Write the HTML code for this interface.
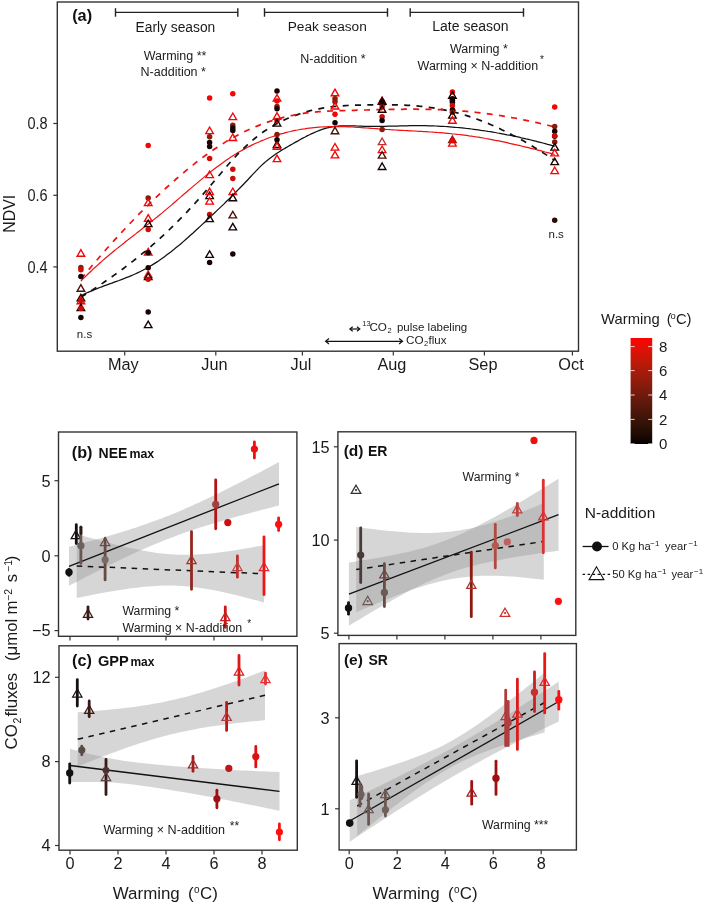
<!DOCTYPE html>
<html><head><meta charset="utf-8"><style>
html,body{margin:0;padding:0;background:#fff;}
body{width:709px;height:904px;overflow:hidden;}
svg{display:block;font-family:"Liberation Sans", sans-serif;will-change:transform;}
</style></head><body>
<svg width="709" height="904" viewBox="0 0 709 904">
<rect x="0" y="0" width="709" height="904" fill="#fff"/>
<line x1="53.3" y1="123.5" x2="57.3" y2="123.5" stroke="#333" stroke-width="1.2"/>
<text x="27.5" y="129.3" font-size="16.3" textLength="20.2" lengthAdjust="spacingAndGlyphs" fill="#1a1a1a">0.8</text>
<line x1="53.3" y1="195.3" x2="57.3" y2="195.3" stroke="#333" stroke-width="1.2"/>
<text x="27.5" y="201.10000000000002" font-size="16.3" textLength="20.2" lengthAdjust="spacingAndGlyphs" fill="#1a1a1a">0.6</text>
<line x1="53.3" y1="266.9" x2="57.3" y2="266.9" stroke="#333" stroke-width="1.2"/>
<text x="27.5" y="272.7" font-size="16.3" textLength="20.2" lengthAdjust="spacingAndGlyphs" fill="#1a1a1a">0.4</text>
<line x1="124.7" y1="351.2" x2="124.7" y2="355.4" stroke="#333" stroke-width="1.2"/>
<text x="107.9" y="370.2" font-size="16.3" fill="#1a1a1a">May</text>
<line x1="215.8" y1="351.2" x2="215.8" y2="355.4" stroke="#333" stroke-width="1.2"/>
<text x="201.28" y="370.2" font-size="16.3" fill="#1a1a1a">Jun</text>
<line x1="302.4" y1="351.2" x2="302.4" y2="355.4" stroke="#333" stroke-width="1.2"/>
<text x="290.57" y="370.2" font-size="16.3" fill="#1a1a1a">Jul</text>
<line x1="393.3" y1="351.2" x2="393.3" y2="355.4" stroke="#333" stroke-width="1.2"/>
<text x="377.39" y="370.2" font-size="16.3" fill="#1a1a1a">Aug</text>
<line x1="484.4" y1="351.2" x2="484.4" y2="355.4" stroke="#333" stroke-width="1.2"/>
<text x="468.49" y="370.2" font-size="16.3" fill="#1a1a1a">Sep</text>
<line x1="572.4" y1="351.2" x2="572.4" y2="355.4" stroke="#333" stroke-width="1.2"/>
<text x="558.33" y="370.2" font-size="16.3" fill="#1a1a1a">Oct</text>
<g transform="translate(15.2,0) rotate(-90)">
<text x="-232.7" y="0" font-size="16.6" textLength="37.99" lengthAdjust="spacingAndGlyphs" fill="#1a1a1a">NDVI</text>
</g>
<text x="72.2" y="21.3" font-size="16.3" font-weight="bold" fill="#111">(a)</text>
<line x1="115.5" y1="12.4" x2="237.8" y2="12.4" stroke="#222" stroke-width="1.4"/>
<line x1="115.5" y1="8.2" x2="115.5" y2="16.7" stroke="#222" stroke-width="1.4"/>
<line x1="237.8" y1="8.2" x2="237.8" y2="16.7" stroke="#222" stroke-width="1.4"/>
<line x1="264.5" y1="12.4" x2="387.5" y2="12.4" stroke="#222" stroke-width="1.4"/>
<line x1="264.5" y1="8.2" x2="264.5" y2="16.7" stroke="#222" stroke-width="1.4"/>
<line x1="387.5" y1="8.2" x2="387.5" y2="16.7" stroke="#222" stroke-width="1.4"/>
<line x1="410.2" y1="12.4" x2="523.5" y2="12.4" stroke="#222" stroke-width="1.4"/>
<line x1="410.2" y1="8.2" x2="410.2" y2="16.7" stroke="#222" stroke-width="1.4"/>
<line x1="523.5" y1="8.2" x2="523.5" y2="16.7" stroke="#222" stroke-width="1.4"/>
<text x="135.5" y="31.5" font-size="13.8" fill="#1a1a1a">Early season</text>
<text x="287.7" y="31.0" font-size="13.7" fill="#1a1a1a">Peak season</text>
<text x="432.3" y="30.9" font-size="14.0" fill="#1a1a1a">Late season</text>
<text x="143.7" y="59.8" font-size="12.5" fill="#1a1a1a">Warming **</text>
<text x="140.6" y="75.9" font-size="12.5" fill="#1a1a1a">N-addition *</text>
<text x="300.3" y="63.2" font-size="12.5" fill="#1a1a1a">N-addition *</text>
<text x="450.0" y="52.7" font-size="12.5" fill="#1a1a1a">Warming *</text>
<text x="417.6" y="70.4" font-size="12.5" textLength="120.52" lengthAdjust="spacingAndGlyphs" fill="#1a1a1a">Warming × N-addition</text>
<text x="540.0" y="63.4" font-size="10" fill="#1a1a1a">*</text>
<text x="76.8" y="337.6" font-size="11.5" fill="#1a1a1a">n.s</text>
<text x="548.5" y="238.1" font-size="11.5" fill="#1a1a1a">n.s</text>
<line x1="350.4" y1="329.0" x2="359.3" y2="329.0" stroke="#111" stroke-width="1.2"/>
<path d="M352.7,326.76 L349.9,329.0 L352.7,331.24" fill="none" stroke="#111" stroke-width="1.2"/>
<path d="M357.0,326.76 L359.8,329.0 L357.0,331.24" fill="none" stroke="#111" stroke-width="1.2"/>
<line x1="326.1" y1="341.3" x2="402.0" y2="341.3" stroke="#111" stroke-width="1.2"/>
<path d="M329.0,338.58 L325.6,341.3 L329.0,344.02000000000004" fill="none" stroke="#111" stroke-width="1.2"/>
<path d="M399.1,338.58 L402.5,341.3 L399.1,344.02000000000004" fill="none" stroke="#111" stroke-width="1.2"/>
<text x="362.3" y="326.3" font-size="7.5" fill="#1a1a1a">13</text>
<text x="369.4" y="331.0" font-size="11.7" fill="#1a1a1a">CO</text>
<text x="387.5" y="332.9" font-size="7.5" fill="#1a1a1a">2</text>
<text x="396.9" y="331.0" font-size="11.5" fill="#1a1a1a">pulse labeling</text>
<text x="406.0" y="344.2" font-size="11.7" fill="#1a1a1a">CO</text>
<text x="424.0" y="346.2" font-size="7.5" fill="#1a1a1a">2</text>
<text x="428.5" y="344.2" font-size="11.5" fill="#1a1a1a">flux</text>
<path d="M80.9,295.7 L83.3,294.5 L85.7,293.4 L88.0,292.3 L90.4,291.3 L92.8,290.3 L95.2,289.3 L97.6,288.4 L99.9,287.5 L102.3,286.6 L104.7,285.7 L107.1,284.8 L109.5,283.9 L111.9,283.1 L114.2,282.2 L116.6,281.3 L119.0,280.5 L121.4,279.6 L123.8,278.7 L126.1,277.7 L128.5,276.8 L130.9,275.8 L133.3,274.8 L135.7,273.7 L138.0,272.6 L140.4,271.5 L142.8,270.3 L145.2,269.0 L147.6,267.7 L149.9,266.3 L152.3,264.9 L154.7,263.4 L157.1,261.9 L159.5,260.2 L161.9,258.6 L164.2,256.9 L166.6,255.1 L169.0,253.3 L171.4,251.5 L173.8,249.6 L176.1,247.6 L178.5,245.7 L180.9,243.7 L183.3,241.6 L185.7,239.5 L188.0,237.5 L190.4,235.3 L192.8,233.2 L195.2,231.0 L197.6,228.8 L199.9,226.6 L202.3,224.4 L204.7,222.2 L207.1,219.9 L209.5,217.7 L211.8,215.4 L214.2,213.2 L216.6,210.9 L219.0,208.6 L221.4,206.4 L223.8,204.1 L226.1,201.7 L228.5,199.4 L230.9,197.1 L233.3,194.7 L235.7,192.3 L238.0,189.9 L240.4,187.5 L242.8,185.0 L245.2,182.5 L247.6,180.0 L249.9,177.5 L252.3,174.9 L254.7,172.4 L257.1,169.9 L259.5,167.4 L261.8,165.1 L264.2,163.0 L266.6,160.9 L269.0,159.0 L271.4,157.2 L273.8,155.5 L276.1,153.8 L278.5,152.3 L280.9,150.7 L283.3,149.3 L285.7,147.9 L288.0,146.5 L290.4,145.1 L292.8,143.8 L295.2,142.4 L297.6,141.1 L299.9,139.7 L302.3,138.4 L304.7,137.2 L307.1,135.9 L309.5,134.8 L311.8,133.6 L314.2,132.6 L316.6,131.5 L319.0,130.6 L321.4,129.7 L323.8,128.9 L326.1,128.2 L328.5,127.6 L330.9,127.1 L333.3,126.7 L335.7,126.3 L338.0,126.1 L340.4,125.9 L342.8,125.8 L345.2,125.8 L347.6,125.8 L349.9,125.8 L352.3,125.9 L354.7,125.9 L357.1,126.0 L359.5,126.1 L361.8,126.2 L364.2,126.3 L366.6,126.3 L369.0,126.4 L371.4,126.4 L373.8,126.4 L376.1,126.4 L378.5,126.4 L380.9,126.3 L383.3,126.3 L385.7,126.3 L388.0,126.2 L390.4,126.2 L392.8,126.1 L395.2,126.0 L397.6,126.0 L399.9,125.9 L402.3,125.9 L404.7,125.8 L407.1,125.8 L409.5,125.7 L411.8,125.7 L414.2,125.7 L416.6,125.7 L419.0,125.7 L421.4,125.7 L423.8,125.7 L426.1,125.7 L428.5,125.8 L430.9,125.9 L433.3,125.9 L435.7,126.0 L438.0,126.1 L440.4,126.3 L442.8,126.4 L445.2,126.5 L447.6,126.7 L449.9,126.9 L452.3,127.1 L454.7,127.3 L457.1,127.5 L459.5,127.7 L461.8,127.9 L464.2,128.2 L466.6,128.5 L469.0,128.7 L471.4,129.0 L473.7,129.3 L476.1,129.6 L478.5,129.9 L480.9,130.3 L483.3,130.6 L485.7,131.0 L488.0,131.4 L490.4,131.7 L492.8,132.1 L495.2,132.5 L497.6,133.0 L499.9,133.4 L502.3,133.8 L504.7,134.3 L507.1,134.8 L509.5,135.2 L511.8,135.7 L514.2,136.2 L516.6,136.7 L519.0,137.2 L521.4,137.8 L523.7,138.3 L526.1,138.9 L528.5,139.4 L530.9,140.0 L533.3,140.6 L535.7,141.2 L538.0,141.8 L540.4,142.4 L542.8,143.0 L545.2,143.6 L547.6,144.3 L549.9,144.9 L552.3,145.6 L554.7,146.3" fill="none" stroke="#111" stroke-width="1.25"/>
<path d="M80.9,281.1 L83.3,278.6 L85.7,276.3 L88.0,274.0 L90.4,271.7 L92.8,269.4 L95.2,267.2 L97.6,265.1 L99.9,263.0 L102.3,260.9 L104.7,258.8 L107.1,256.8 L109.5,254.8 L111.9,252.8 L114.2,250.8 L116.6,248.9 L119.0,247.0 L121.4,245.1 L123.8,243.2 L126.1,241.3 L128.5,239.4 L130.9,237.6 L133.3,235.7 L135.7,233.9 L138.0,232.0 L140.4,230.2 L142.8,228.3 L145.2,226.4 L147.6,224.6 L149.9,222.7 L152.3,220.8 L154.7,218.9 L157.1,217.0 L159.5,215.0 L161.9,213.1 L164.2,211.1 L166.6,209.1 L169.0,207.1 L171.4,205.1 L173.8,203.0 L176.1,201.0 L178.5,198.9 L180.9,196.9 L183.3,194.8 L185.7,192.7 L188.0,190.7 L190.4,188.6 L192.8,186.6 L195.2,184.6 L197.6,182.6 L199.9,180.6 L202.3,178.6 L204.7,176.6 L207.1,174.7 L209.5,172.8 L211.8,170.9 L214.2,169.0 L216.6,167.2 L219.0,165.4 L221.4,163.7 L223.8,162.0 L226.1,160.3 L228.5,158.7 L230.9,157.1 L233.3,155.6 L235.7,154.1 L238.0,152.6 L240.4,151.2 L242.8,149.9 L245.2,148.6 L247.6,147.3 L249.9,146.1 L252.3,144.9 L254.7,143.8 L257.1,142.7 L259.5,141.7 L261.8,140.6 L264.2,139.7 L266.6,138.7 L269.0,137.8 L271.4,137.0 L273.8,136.2 L276.1,135.4 L278.5,134.6 L280.9,133.9 L283.3,133.3 L285.7,132.6 L288.0,132.0 L290.4,131.5 L292.8,130.9 L295.2,130.4 L297.6,130.0 L299.9,129.5 L302.3,129.1 L304.7,128.8 L307.1,128.4 L309.5,128.1 L311.8,127.8 L314.2,127.6 L316.6,127.4 L319.0,127.2 L321.4,127.0 L323.8,126.9 L326.1,126.8 L328.5,126.7 L330.9,126.6 L333.3,126.6 L335.7,126.6 L338.0,126.6 L340.4,126.6 L342.8,126.7 L345.2,126.7 L347.6,126.8 L349.9,126.9 L352.3,127.0 L354.7,127.2 L357.1,127.3 L359.5,127.5 L361.8,127.6 L364.2,127.8 L366.6,128.0 L369.0,128.1 L371.4,128.3 L373.8,128.5 L376.1,128.7 L378.5,128.9 L380.9,129.0 L383.3,129.2 L385.7,129.4 L388.0,129.5 L390.4,129.7 L392.8,129.8 L395.2,130.0 L397.6,130.1 L399.9,130.3 L402.3,130.4 L404.7,130.5 L407.1,130.6 L409.5,130.8 L411.8,130.9 L414.2,131.0 L416.6,131.2 L419.0,131.3 L421.4,131.4 L423.8,131.6 L426.1,131.7 L428.5,131.9 L430.9,132.0 L433.3,132.2 L435.7,132.3 L438.0,132.5 L440.4,132.7 L442.8,132.9 L445.2,133.1 L447.6,133.3 L449.9,133.5 L452.3,133.8 L454.7,134.0 L457.1,134.3 L459.5,134.5 L461.8,134.8 L464.2,135.1 L466.6,135.4 L469.0,135.8 L471.4,136.1 L473.7,136.5 L476.1,136.9 L478.5,137.2 L480.9,137.6 L483.3,138.0 L485.7,138.5 L488.0,138.9 L490.4,139.3 L492.8,139.8 L495.2,140.3 L497.6,140.7 L499.9,141.2 L502.3,141.7 L504.7,142.2 L507.1,142.7 L509.5,143.3 L511.8,143.8 L514.2,144.3 L516.6,144.9 L519.0,145.4 L521.4,146.0 L523.7,146.6 L526.1,147.1 L528.5,147.7 L530.9,148.3 L533.3,148.9 L535.7,149.5 L538.0,150.1 L540.4,150.7 L542.8,151.3 L545.2,152.0 L547.6,152.6 L549.9,153.2 L552.3,153.9 L554.7,154.5" fill="none" stroke="#f01010" stroke-width="1.2"/>
<path d="M80.9,297.3 L83.3,295.8 L85.7,294.3 L88.0,292.8 L90.4,291.2 L92.8,289.7 L95.2,288.1 L97.6,286.5 L99.9,285.0 L102.3,283.4 L104.7,281.7 L107.1,280.1 L109.5,278.4 L111.9,276.8 L114.2,275.1 L116.6,273.4 L119.0,271.7 L121.4,269.9 L123.8,268.2 L126.1,266.4 L128.5,264.6 L130.9,262.7 L133.3,260.9 L135.7,259.0 L138.0,257.1 L140.4,255.2 L142.8,253.2 L145.2,251.3 L147.6,249.3 L149.9,247.3 L152.3,245.2 L154.7,243.1 L157.1,241.0 L159.5,238.9 L161.9,236.7 L164.2,234.5 L166.6,232.3 L169.0,230.0 L171.4,227.7 L173.8,225.4 L176.1,223.0 L178.5,220.6 L180.9,218.2 L183.3,215.8 L185.7,213.3 L188.0,210.8 L190.4,208.2 L192.8,205.7 L195.2,203.0 L197.6,200.4 L199.9,197.8 L202.3,195.1 L204.7,192.3 L207.1,189.6 L209.5,186.8 L211.8,184.0 L214.2,181.2 L216.6,178.4 L219.0,175.5 L221.4,172.7 L223.8,169.9 L226.1,167.1 L228.5,164.3 L230.9,161.6 L233.3,158.9 L235.7,156.4 L238.0,153.9 L240.4,151.4 L242.8,149.1 L245.2,146.8 L247.6,144.6 L249.9,142.5 L252.3,140.4 L254.7,138.5 L257.1,136.6 L259.5,134.8 L261.8,133.0 L264.2,131.3 L266.6,129.8 L269.0,128.2 L271.4,126.8 L273.8,125.4 L276.1,124.1 L278.5,122.8 L280.9,121.6 L283.3,120.4 L285.7,119.3 L288.0,118.3 L290.4,117.3 L292.8,116.3 L295.2,115.4 L297.6,114.6 L299.9,113.8 L302.3,113.0 L304.7,112.3 L307.1,111.6 L309.5,110.9 L311.8,110.3 L314.2,109.8 L316.6,109.3 L319.0,108.8 L321.4,108.3 L323.8,107.9 L326.1,107.5 L328.5,107.2 L330.9,106.9 L333.3,106.6 L335.7,106.4 L338.0,106.2 L340.4,106.0 L342.8,105.8 L345.2,105.6 L347.6,105.5 L349.9,105.4 L352.3,105.3 L354.7,105.2 L357.1,105.2 L359.5,105.1 L361.8,105.0 L364.2,105.0 L366.6,105.0 L369.0,104.9 L371.4,104.9 L373.8,104.9 L376.1,104.8 L378.5,104.8 L380.9,104.8 L383.3,104.8 L385.7,104.8 L388.0,104.8 L390.4,104.8 L392.8,104.8 L395.2,104.8 L397.6,104.9 L399.9,105.0 L402.3,105.0 L404.7,105.1 L407.1,105.3 L409.5,105.4 L411.8,105.6 L414.2,105.7 L416.6,105.9 L419.0,106.2 L421.4,106.4 L423.8,106.7 L426.1,106.9 L428.5,107.3 L430.9,107.6 L433.3,107.9 L435.7,108.3 L438.0,108.7 L440.4,109.1 L442.8,109.6 L445.2,110.1 L447.6,110.6 L449.9,111.1 L452.3,111.7 L454.7,112.3 L457.1,112.9 L459.5,113.5 L461.8,114.2 L464.2,114.9 L466.6,115.6 L469.0,116.4 L471.4,117.2 L473.7,118.0 L476.1,118.8 L478.5,119.7 L480.9,120.6 L483.3,121.5 L485.7,122.5 L488.0,123.4 L490.4,124.5 L492.8,125.5 L495.2,126.5 L497.6,127.6 L499.9,128.7 L502.3,129.9 L504.7,131.0 L507.1,132.2 L509.5,133.4 L511.8,134.7 L514.2,135.9 L516.6,137.2 L519.0,138.5 L521.4,139.8 L523.7,141.1 L526.1,142.5 L528.5,143.9 L530.9,145.3 L533.3,146.7 L535.7,148.2 L538.0,149.6 L540.4,151.1 L542.8,152.6 L545.2,154.1 L547.6,155.7 L549.9,157.2 L552.3,158.8 L554.7,160.4" fill="none" stroke="#111" stroke-width="1.7" stroke-dasharray="6,6.3"/>
<path d="M80.9,279.1 L83.3,276.2 L85.7,273.3 L88.0,270.5 L90.4,267.7 L92.8,264.8 L95.2,262.0 L97.6,259.3 L99.9,256.5 L102.3,253.8 L104.7,251.0 L107.1,248.3 L109.5,245.7 L111.9,243.0 L114.2,240.4 L116.6,237.8 L119.0,235.2 L121.4,232.6 L123.8,230.0 L126.1,227.5 L128.5,225.0 L130.9,222.5 L133.3,220.0 L135.7,217.5 L138.0,215.1 L140.4,212.7 L142.8,210.3 L145.2,207.9 L147.6,205.6 L149.9,203.2 L152.3,200.9 L154.7,198.6 L157.1,196.4 L159.5,194.1 L161.9,191.9 L164.2,189.7 L166.6,187.5 L169.0,185.3 L171.4,183.2 L173.8,181.1 L176.1,179.0 L178.5,176.9 L180.9,174.9 L183.3,172.9 L185.7,170.9 L188.0,168.9 L190.4,167.0 L192.8,165.1 L195.2,163.2 L197.6,161.3 L199.9,159.5 L202.3,157.7 L204.7,156.0 L207.1,154.2 L209.5,152.6 L211.8,150.9 L214.2,149.3 L216.6,147.7 L219.0,146.1 L221.4,144.6 L223.8,143.1 L226.1,141.6 L228.5,140.2 L230.9,138.9 L233.3,137.5 L235.7,136.2 L238.0,134.9 L240.4,133.7 L242.8,132.5 L245.2,131.3 L247.6,130.2 L249.9,129.1 L252.3,128.1 L254.7,127.1 L257.1,126.1 L259.5,125.1 L261.8,124.2 L264.2,123.3 L266.6,122.5 L269.0,121.6 L271.4,120.9 L273.8,120.1 L276.1,119.4 L278.5,118.7 L280.9,118.1 L283.3,117.4 L285.7,116.8 L288.0,116.3 L290.4,115.7 L292.8,115.3 L295.2,114.8 L297.6,114.3 L299.9,113.9 L302.3,113.6 L304.7,113.2 L307.1,112.9 L309.5,112.6 L311.8,112.3 L314.2,112.1 L316.6,111.9 L319.0,111.7 L321.4,111.5 L323.8,111.4 L326.1,111.2 L328.5,111.1 L330.9,111.0 L333.3,110.9 L335.7,110.8 L338.0,110.7 L340.4,110.6 L342.8,110.6 L345.2,110.5 L347.6,110.4 L349.9,110.4 L352.3,110.3 L354.7,110.3 L357.1,110.2 L359.5,110.1 L361.8,110.1 L364.2,110.0 L366.6,110.0 L369.0,109.9 L371.4,109.8 L373.8,109.8 L376.1,109.7 L378.5,109.7 L380.9,109.6 L383.3,109.6 L385.7,109.5 L388.0,109.5 L390.4,109.4 L392.8,109.4 L395.2,109.3 L397.6,109.3 L399.9,109.3 L402.3,109.3 L404.7,109.2 L407.1,109.2 L409.5,109.2 L411.8,109.2 L414.2,109.2 L416.6,109.2 L419.0,109.3 L421.4,109.3 L423.8,109.3 L426.1,109.3 L428.5,109.4 L430.9,109.4 L433.3,109.5 L435.7,109.6 L438.0,109.7 L440.4,109.7 L442.8,109.8 L445.2,110.0 L447.6,110.1 L449.9,110.2 L452.3,110.3 L454.7,110.5 L457.1,110.6 L459.5,110.8 L461.8,111.0 L464.2,111.2 L466.6,111.4 L469.0,111.6 L471.4,111.9 L473.7,112.1 L476.1,112.4 L478.5,112.6 L480.9,112.9 L483.3,113.2 L485.7,113.5 L488.0,113.8 L490.4,114.1 L492.8,114.5 L495.2,114.8 L497.6,115.2 L499.9,115.5 L502.3,115.9 L504.7,116.3 L507.1,116.7 L509.5,117.1 L511.8,117.6 L514.2,118.0 L516.6,118.4 L519.0,118.9 L521.4,119.4 L523.7,119.9 L526.1,120.3 L528.5,120.8 L530.9,121.4 L533.3,121.9 L535.7,122.4 L538.0,122.9 L540.4,123.5 L542.8,124.1 L545.2,124.6 L547.6,125.2 L549.9,125.8 L552.3,126.4 L554.7,127.0" fill="none" stroke="#f01010" stroke-width="1.7" stroke-dasharray="6,6.3"/>
<polygon points="80.90,249.71 77.10,256.29 84.70,256.29" fill="none" stroke="#f50505" stroke-width="1.35" stroke-linejoin="miter"/>
<circle cx="80.9" cy="267.5" r="2.75" fill="#8c1a0c"/>
<circle cx="80.9" cy="269.8" r="2.75" fill="#cc0c06"/>
<circle cx="80.9" cy="276.4" r="2.75" fill="#160303"/>
<polygon points="80.90,284.71 77.10,291.29 84.70,291.29" fill="none" stroke="#4a1208" stroke-width="1.35" stroke-linejoin="miter"/>
<polygon points="80.90,294.31 77.10,300.89 84.70,300.89" fill="none" stroke="#160303" stroke-width="1.35" stroke-linejoin="miter"/>
<polygon points="80.90,297.21 77.10,303.79 84.70,303.79" fill="none" stroke="#f50505" stroke-width="1.35" stroke-linejoin="miter"/>
<circle cx="80.9" cy="300.5" r="2.75" fill="#cc0c06"/>
<polygon points="80.90,304.11 77.10,310.69 84.70,310.69" fill="none" stroke="#160303" stroke-width="1.35" stroke-linejoin="miter"/>
<circle cx="80.9" cy="308.5" r="2.75" fill="#cc0c06"/>
<circle cx="80.9" cy="317.5" r="2.75" fill="#160303"/>
<circle cx="148.2" cy="145.5" r="2.75" fill="#f50505"/>
<circle cx="148.2" cy="198.1" r="2.75" fill="#8c1a0c"/>
<polygon points="148.20,199.11 144.40,205.69 152.00,205.69" fill="none" stroke="#f50505" stroke-width="1.35" stroke-linejoin="miter"/>
<polygon points="148.20,214.71 144.40,221.29 152.00,221.29" fill="none" stroke="#f50505" stroke-width="1.35" stroke-linejoin="miter"/>
<polygon points="148.20,220.11 144.40,226.69 152.00,226.69" fill="none" stroke="#160303" stroke-width="1.35" stroke-linejoin="miter"/>
<circle cx="148.2" cy="229.5" r="2.75" fill="#cc0c06"/>
<polygon points="148.20,248.41 144.40,254.99 152.00,254.99" fill="none" stroke="#f50505" stroke-width="1.35" stroke-linejoin="miter"/>
<circle cx="148.2" cy="252.7" r="2.75" fill="#160303"/>
<circle cx="148.2" cy="267.7" r="2.75" fill="#160303"/>
<polygon points="148.20,271.01 144.40,277.59 152.00,277.59" fill="none" stroke="#f50505" stroke-width="1.35" stroke-linejoin="miter"/>
<polygon points="148.20,273.11 144.40,279.69 152.00,279.69" fill="none" stroke="#160303" stroke-width="1.35" stroke-linejoin="miter"/>
<circle cx="148.2" cy="279.2" r="2.75" fill="#cc0c06"/>
<circle cx="148.2" cy="312.0" r="2.75" fill="#160303"/>
<polygon points="148.20,321.11 144.40,327.69 152.00,327.69" fill="none" stroke="#160303" stroke-width="1.35" stroke-linejoin="miter"/>
<circle cx="209.6" cy="97.9" r="2.75" fill="#f50505"/>
<polygon points="209.60,127.01 205.80,133.59 213.40,133.59" fill="none" stroke="#f50505" stroke-width="1.35" stroke-linejoin="miter"/>
<circle cx="209.6" cy="136.7" r="2.75" fill="#8c1a0c"/>
<circle cx="209.6" cy="142.6" r="2.75" fill="#160303"/>
<circle cx="209.6" cy="146.4" r="2.75" fill="#160303"/>
<circle cx="209.6" cy="158.5" r="2.75" fill="#cc0c06"/>
<polygon points="209.60,171.01 205.80,177.59 213.40,177.59" fill="none" stroke="#f50505" stroke-width="1.35" stroke-linejoin="miter"/>
<polygon points="209.60,192.01 205.80,198.59 213.40,198.59" fill="none" stroke="#160303" stroke-width="1.35" stroke-linejoin="miter"/>
<polygon points="209.60,188.11 205.80,194.69 213.40,194.69" fill="none" stroke="#f50505" stroke-width="1.35" stroke-linejoin="miter"/>
<polygon points="209.60,197.51 205.80,204.09 213.40,204.09" fill="none" stroke="#f50505" stroke-width="1.35" stroke-linejoin="miter"/>
<circle cx="209.6" cy="214.6" r="2.75" fill="#cc0c06"/>
<polygon points="209.60,215.11 205.80,221.69 213.40,221.69" fill="none" stroke="#160303" stroke-width="1.35" stroke-linejoin="miter"/>
<polygon points="209.60,250.81 205.80,257.39 213.40,257.39" fill="none" stroke="#160303" stroke-width="1.35" stroke-linejoin="miter"/>
<circle cx="209.6" cy="262.5" r="2.75" fill="#160303"/>
<circle cx="232.8" cy="93.7" r="2.75" fill="#f50505"/>
<polygon points="232.80,113.01 229.00,119.59 236.60,119.59" fill="none" stroke="#f50505" stroke-width="1.35" stroke-linejoin="miter"/>
<circle cx="232.8" cy="125.2" r="2.75" fill="#8c1a0c"/>
<circle cx="232.8" cy="128.0" r="2.75" fill="#160303"/>
<circle cx="232.8" cy="130.5" r="2.75" fill="#160303"/>
<polygon points="232.80,133.91 229.00,140.49 236.60,140.49" fill="none" stroke="#f50505" stroke-width="1.35" stroke-linejoin="miter"/>
<circle cx="232.8" cy="169.3" r="2.75" fill="#cc0c06"/>
<circle cx="232.8" cy="178.6" r="2.75" fill="#cc0c06"/>
<polygon points="232.80,188.01 229.00,194.59 236.60,194.59" fill="none" stroke="#f50505" stroke-width="1.35" stroke-linejoin="miter"/>
<polygon points="232.80,194.21 229.00,200.79 236.60,200.79" fill="none" stroke="#160303" stroke-width="1.35" stroke-linejoin="miter"/>
<polygon points="232.80,211.31 229.00,217.89 236.60,217.89" fill="none" stroke="#4a1208" stroke-width="1.35" stroke-linejoin="miter"/>
<polygon points="232.80,223.31 229.00,229.89 236.60,229.89" fill="none" stroke="#160303" stroke-width="1.35" stroke-linejoin="miter"/>
<circle cx="232.8" cy="254.1" r="2.75" fill="#160303"/>
<circle cx="277.0" cy="90.9" r="2.75" fill="#160303"/>
<polygon points="277.00,94.61 273.20,101.19 280.80,101.19" fill="none" stroke="#f50505" stroke-width="1.35" stroke-linejoin="miter"/>
<circle cx="277.0" cy="101.0" r="2.75" fill="#f50505"/>
<circle cx="277.0" cy="106.5" r="2.75" fill="#8c1a0c"/>
<circle cx="277.0" cy="108.8" r="2.75" fill="#160303"/>
<polygon points="277.00,112.71 273.20,119.29 280.80,119.29" fill="none" stroke="#f50505" stroke-width="1.35" stroke-linejoin="miter"/>
<circle cx="277.0" cy="120.4" r="2.75" fill="#cc0c06"/>
<polygon points="277.00,119.51 273.20,126.09 280.80,126.09" fill="none" stroke="#160303" stroke-width="1.35" stroke-linejoin="miter"/>
<circle cx="277.0" cy="134.4" r="2.75" fill="#8c1a0c"/>
<circle cx="277.0" cy="139.8" r="2.75" fill="#160303"/>
<polygon points="277.00,140.91 273.20,147.49 280.80,147.49" fill="none" stroke="#160303" stroke-width="1.35" stroke-linejoin="miter"/>
<polygon points="277.00,142.71 273.20,149.29 280.80,149.29" fill="none" stroke="#f50505" stroke-width="1.35" stroke-linejoin="miter"/>
<polygon points="277.00,155.11 273.20,161.69 280.80,161.69" fill="none" stroke="#f50505" stroke-width="1.35" stroke-linejoin="miter"/>
<polygon points="335.00,89.21 331.20,95.79 338.80,95.79" fill="none" stroke="#f50505" stroke-width="1.35" stroke-linejoin="miter"/>
<circle cx="335.0" cy="98.7" r="2.75" fill="#8c1a0c"/>
<circle cx="335.0" cy="101.8" r="2.75" fill="#8c1a0c"/>
<polygon points="335.00,102.41 331.20,108.99 338.80,108.99" fill="none" stroke="#f50505" stroke-width="1.35" stroke-linejoin="miter"/>
<circle cx="335.0" cy="114.2" r="2.75" fill="#f50505"/>
<circle cx="335.0" cy="122.8" r="2.75" fill="#160303"/>
<polygon points="335.00,127.21 331.20,133.79 338.80,133.79" fill="none" stroke="#4a1208" stroke-width="1.35" stroke-linejoin="miter"/>
<polygon points="335.00,143.51 331.20,150.09 338.80,150.09" fill="none" stroke="#f50505" stroke-width="1.35" stroke-linejoin="miter"/>
<polygon points="335.00,151.31 331.20,157.89 338.80,157.89" fill="none" stroke="#f50505" stroke-width="1.35" stroke-linejoin="miter"/>
<polygon points="382.10,97.21 378.30,103.79 385.90,103.79" fill="none" stroke="#f50505" stroke-width="1.35" stroke-linejoin="miter"/>
<polygon points="382.10,97.71 378.30,104.29 385.90,104.29" fill="none" stroke="#160303" stroke-width="1.35" stroke-linejoin="miter"/>
<circle cx="382.1" cy="101.5" r="2.75" fill="#160303"/>
<circle cx="382.1" cy="107.0" r="2.75" fill="#cc0c06"/>
<polygon points="382.10,105.71 378.30,112.29 385.90,112.29" fill="none" stroke="#160303" stroke-width="1.35" stroke-linejoin="miter"/>
<circle cx="382.1" cy="116.8" r="2.75" fill="#cc0c06"/>
<circle cx="382.1" cy="120.6" r="2.75" fill="#160303"/>
<circle cx="382.1" cy="129.5" r="2.75" fill="#8c1a0c"/>
<polygon points="382.10,138.01 378.30,144.59 385.90,144.59" fill="none" stroke="#c03030" stroke-width="1.35" stroke-linejoin="miter"/>
<polygon points="382.10,146.01 378.30,152.59 385.90,152.59" fill="none" stroke="#f50505" stroke-width="1.35" stroke-linejoin="miter"/>
<polygon points="382.10,151.61 378.30,158.19 385.90,158.19" fill="none" stroke="#4a1208" stroke-width="1.35" stroke-linejoin="miter"/>
<polygon points="382.10,162.91 378.30,169.49 385.90,169.49" fill="none" stroke="#160303" stroke-width="1.35" stroke-linejoin="miter"/>
<circle cx="452.4" cy="92.0" r="2.75" fill="#f50505"/>
<polygon points="452.40,91.71 448.60,98.29 456.20,98.29" fill="none" stroke="#160303" stroke-width="1.35" stroke-linejoin="miter"/>
<circle cx="452.4" cy="98.8" r="2.75" fill="#160303"/>
<circle cx="452.4" cy="100.5" r="2.75" fill="#160303"/>
<circle cx="452.4" cy="102.2" r="2.75" fill="#160303"/>
<circle cx="452.4" cy="105.5" r="2.75" fill="#cc0c06"/>
<circle cx="452.4" cy="109.8" r="2.75" fill="#160303"/>
<circle cx="452.4" cy="112.3" r="2.75" fill="#8c1a0c"/>
<polygon points="452.40,111.61 448.60,118.19 456.20,118.19" fill="none" stroke="#160303" stroke-width="1.35" stroke-linejoin="miter"/>
<polygon points="452.40,116.71 448.60,123.29 456.20,123.29" fill="none" stroke="#f50505" stroke-width="1.35" stroke-linejoin="miter"/>
<polygon points="452.40,136.11 448.60,142.69 456.20,142.69" fill="none" stroke="#8c1a0c" stroke-width="1.35" stroke-linejoin="miter"/>
<circle cx="452.4" cy="140.5" r="2.75" fill="#cc0c06"/>
<polygon points="452.40,139.51 448.60,146.09 456.20,146.09" fill="none" stroke="#f50505" stroke-width="1.35" stroke-linejoin="miter"/>
<circle cx="554.7" cy="106.9" r="2.75" fill="#f50505"/>
<circle cx="554.7" cy="126.4" r="2.75" fill="#8c1a0c"/>
<circle cx="554.7" cy="131.3" r="2.75" fill="#160303"/>
<circle cx="554.7" cy="136.3" r="2.75" fill="#160303"/>
<circle cx="554.7" cy="135.8" r="2.75" fill="#cc0c06"/>
<circle cx="554.7" cy="142.0" r="2.75" fill="#8c1a0c"/>
<polygon points="554.70,143.61 550.90,150.19 558.50,150.19" fill="none" stroke="#160303" stroke-width="1.35" stroke-linejoin="miter"/>
<polygon points="554.70,149.31 550.90,155.89 558.50,155.89" fill="none" stroke="#f50505" stroke-width="1.35" stroke-linejoin="miter"/>
<polygon points="554.70,158.11 550.90,164.69 558.50,164.69" fill="none" stroke="#160303" stroke-width="1.35" stroke-linejoin="miter"/>
<polygon points="554.70,167.01 550.90,173.59 558.50,173.59" fill="none" stroke="#f50505" stroke-width="1.35" stroke-linejoin="miter"/>
<circle cx="554.7" cy="220.2" r="2.75" fill="#2a0806"/>
<rect x="57.3" y="2.0" width="521.2" height="349.2" fill="none" stroke="#333" stroke-width="1.4"/>
<defs><linearGradient id="cb" x1="0" y1="1" x2="0" y2="0"><stop offset="0.00" stop-color="#000000"/><stop offset="0.05" stop-color="#150602"/><stop offset="0.10" stop-color="#200c03"/><stop offset="0.15" stop-color="#2a1005"/><stop offset="0.20" stop-color="#341307"/><stop offset="0.25" stop-color="#3f1508"/><stop offset="0.30" stop-color="#4a160a"/><stop offset="0.35" stop-color="#56180b"/><stop offset="0.40" stop-color="#61190b"/><stop offset="0.45" stop-color="#6d1a0c"/><stop offset="0.50" stop-color="#7a1b0c"/><stop offset="0.55" stop-color="#861b0c"/><stop offset="0.60" stop-color="#931b0c"/><stop offset="0.65" stop-color="#9f1b0b"/><stop offset="0.70" stop-color="#ac1a0a"/><stop offset="0.75" stop-color="#b91909"/><stop offset="0.80" stop-color="#c71708"/><stop offset="0.85" stop-color="#d41406"/><stop offset="0.90" stop-color="#e21005"/><stop offset="0.95" stop-color="#ef0a03"/><stop offset="1.00" stop-color="#fd0100"/></linearGradient></defs>
<rect x="630.6" y="338" width="21.6" height="106" fill="url(#cb)"/>
<line x1="630.6" y1="346.6" x2="634.6" y2="346.6" stroke="#fff" stroke-width="1.0" stroke-opacity="0.8"/>
<line x1="648.2" y1="346.6" x2="652.2" y2="346.6" stroke="#fff" stroke-width="1.0" stroke-opacity="0.8"/>
<text x="659.0" y="351.90000000000003" font-size="15" fill="#1a1a1a">8</text>
<line x1="630.6" y1="370.6" x2="634.6" y2="370.6" stroke="#fff" stroke-width="1.0" stroke-opacity="0.8"/>
<line x1="648.2" y1="370.6" x2="652.2" y2="370.6" stroke="#fff" stroke-width="1.0" stroke-opacity="0.8"/>
<text x="659.0" y="375.90000000000003" font-size="15" fill="#1a1a1a">6</text>
<line x1="630.6" y1="395.0" x2="634.6" y2="395.0" stroke="#fff" stroke-width="1.0" stroke-opacity="0.8"/>
<line x1="648.2" y1="395.0" x2="652.2" y2="395.0" stroke="#fff" stroke-width="1.0" stroke-opacity="0.8"/>
<text x="659.0" y="400.3" font-size="15" fill="#1a1a1a">4</text>
<line x1="630.6" y1="419.4" x2="634.6" y2="419.4" stroke="#fff" stroke-width="1.0" stroke-opacity="0.8"/>
<line x1="648.2" y1="419.4" x2="652.2" y2="419.4" stroke="#fff" stroke-width="1.0" stroke-opacity="0.8"/>
<text x="659.0" y="424.7" font-size="15" fill="#1a1a1a">2</text>
<line x1="630.6" y1="443.8" x2="634.6" y2="443.8" stroke="#fff" stroke-width="1.0" stroke-opacity="0.8"/>
<line x1="648.2" y1="443.8" x2="652.2" y2="443.8" stroke="#fff" stroke-width="1.0" stroke-opacity="0.8"/>
<text x="659.0" y="449.1" font-size="15" fill="#1a1a1a">0</text>
<text x="601.1" y="324.0" font-size="14.8" fill="#1a1a1a">Warming</text>
<text x="666.7" y="324.0" font-size="14.8" fill="#1a1a1a">(</text>
<text x="670.6" y="319.1" font-size="9.4" fill="#1a1a1a">o</text>
<text x="675.9" y="324.0" font-size="14.8" fill="#1a1a1a">C)</text>
<text x="584.7" y="518.2" font-size="15.5" fill="#1a1a1a">N-addition</text>
<line x1="582.6" y1="546.5" x2="608.5" y2="546.5" stroke="#111" stroke-width="1.3"/>
<circle cx="597.0" cy="546.5" r="5.0" fill="#111"/>
<text x="612.2" y="550.1" font-size="11.2" fill="#1a1a1a">0 Kg ha</text>
<text x="650.3" y="545.6" font-size="8" fill="#1a1a1a">−1</text>
<text x="665.1" y="550.1" font-size="11.2" fill="#1a1a1a">year</text>
<text x="688.6" y="545.6" font-size="8" fill="#1a1a1a">−1</text>
<line x1="582.6" y1="574.4" x2="610.3" y2="574.4" stroke="#111" stroke-width="1.1" stroke-dasharray="2.5,2.5"/>
<polygon points="596.50,566.79 589.10,579.61 603.90,579.61" fill="none" stroke="#111" stroke-width="1.1" stroke-linejoin="miter"/>
<text x="612.2" y="578.1" font-size="11.2" fill="#1a1a1a">50 Kg ha</text>
<text x="657.4" y="573.6" font-size="8" fill="#1a1a1a">−1</text>
<text x="671.5" y="578.1" font-size="11.2" fill="#1a1a1a">year</text>
<text x="694.0" y="573.6" font-size="8" fill="#1a1a1a">−1</text>
<path d="M69.00,546.80 L73.20,545.70 L77.40,544.59 L81.60,543.46 L85.80,542.33 L90.00,541.19 L94.20,540.03 L98.40,538.86 L102.60,537.67 L106.80,536.47 L111.00,535.25 L115.20,534.01 L119.40,532.74 L123.60,531.46 L127.80,530.14 L132.00,528.80 L136.20,527.43 L140.40,526.03 L144.60,524.59 L148.80,523.12 L153.00,521.61 L157.20,520.07 L161.40,518.48 L165.60,516.85 L169.80,515.18 L174.00,513.47 L178.20,511.72 L182.40,509.94 L186.60,508.11 L190.80,506.25 L195.00,504.36 L199.20,502.43 L203.40,500.48 L207.60,498.49 L211.80,496.48 L216.00,494.45 L220.20,492.39 L224.40,490.32 L228.60,488.22 L232.80,486.11 L237.00,483.98 L241.20,481.84 L245.40,479.69 L249.60,477.52 L253.80,475.35 L258.00,473.16 L262.20,470.96 L266.40,468.76 L270.60,466.55 L274.80,464.33 L279.00,462.10 L279.00,505.50 L274.80,506.57 L270.60,507.65 L266.40,508.74 L262.20,509.84 L258.00,510.94 L253.80,512.05 L249.60,513.18 L245.40,514.31 L241.20,515.46 L237.00,516.62 L232.80,517.79 L228.60,518.98 L224.40,520.18 L220.20,521.41 L216.00,522.65 L211.80,523.92 L207.60,525.21 L203.40,526.52 L199.20,527.87 L195.00,529.24 L190.80,530.65 L186.60,532.09 L182.40,533.56 L178.20,535.08 L174.00,536.63 L169.80,538.22 L165.60,539.85 L161.40,541.52 L157.20,543.23 L153.00,544.99 L148.80,546.78 L144.60,548.61 L140.40,550.47 L136.20,552.37 L132.00,554.30 L127.80,556.26 L123.60,558.24 L119.40,560.26 L115.20,562.29 L111.00,564.35 L106.80,566.43 L102.60,568.53 L98.40,570.64 L94.20,572.77 L90.00,574.91 L85.80,577.07 L81.60,579.24 L77.40,581.41 L73.20,583.60 L69.00,585.80Z" fill="#999999" fill-opacity="0.4" stroke="none"/>
<path d="M76.70,534.10 L80.45,535.16 L84.19,536.22 L87.94,537.26 L91.68,538.29 L95.43,539.31 L99.18,540.32 L102.92,541.32 L106.67,542.30 L110.41,543.26 L114.16,544.21 L117.91,545.13 L121.65,546.03 L125.40,546.91 L129.14,547.76 L132.89,548.58 L136.64,549.36 L140.38,550.11 L144.13,550.82 L147.87,551.48 L151.62,552.09 L155.37,552.65 L159.11,553.15 L162.86,553.60 L166.60,553.98 L170.35,554.29 L174.10,554.53 L177.84,554.71 L181.59,554.82 L185.33,554.85 L189.08,554.82 L192.83,554.73 L196.57,554.58 L200.32,554.36 L204.06,554.09 L207.81,553.78 L211.56,553.41 L215.30,553.00 L219.05,552.56 L222.79,552.08 L226.54,551.56 L230.29,551.02 L234.03,550.45 L237.78,549.86 L241.52,549.24 L245.27,548.61 L249.02,547.96 L252.76,547.29 L256.51,546.60 L260.25,545.91 L264.00,545.20 L264.00,602.40 L260.25,601.38 L256.51,600.37 L252.76,599.38 L249.02,598.40 L245.27,597.43 L241.52,596.49 L237.78,595.56 L234.03,594.65 L230.29,593.77 L226.54,592.92 L222.79,592.09 L219.05,591.30 L215.30,590.54 L211.56,589.82 L207.81,589.14 L204.06,588.51 L200.32,587.93 L196.57,587.41 L192.83,586.94 L189.08,586.54 L185.33,586.19 L181.59,585.92 L177.84,585.71 L174.10,585.58 L170.35,585.51 L166.60,585.51 L162.86,585.58 L159.11,585.71 L155.37,585.90 L151.62,586.15 L147.87,586.45 L144.13,586.80 L140.38,587.20 L136.64,587.63 L132.89,588.10 L129.14,588.61 L125.40,589.15 L121.65,589.71 L117.91,590.30 L114.16,590.91 L110.41,591.55 L106.67,592.20 L102.92,592.87 L99.18,593.55 L95.43,594.25 L91.68,594.96 L87.94,595.68 L84.19,596.41 L80.45,597.15 L76.70,597.90Z" fill="#999999" fill-opacity="0.4" stroke="none"/>
<path d="M69,566.3 L279,483.8" fill="none" stroke="#111" stroke-width="1.3"/>
<path d="M76.7,566.0 L264,573.8" fill="none" stroke="#111" stroke-width="1.5" stroke-dasharray="5.5,5.5"/>
<line x1="69.0" y1="569.4" x2="69.0" y2="575.4" stroke="#111" stroke-width="2.8" stroke-linecap="round"/>
<circle cx="69.0" cy="572.2" r="3.7" fill="#111"/>
<line x1="76.3" y1="524.6999999999999" x2="76.3" y2="543.5" stroke="#161010" stroke-width="2.8" stroke-linecap="round"/>
<polygon points="75.80,530.57 71.15,538.63 80.45,538.63" fill="none" stroke="#161010" stroke-width="1.25" stroke-linejoin="miter"/>
<line x1="80.9" y1="527.1999999999999" x2="80.9" y2="563.4" stroke="#6b5853" stroke-width="2.8" stroke-linecap="round"/>
<line x1="80.9" y1="527.1999999999999" x2="80.9" y2="533.6" stroke="#2a1a18" stroke-width="2.8" stroke-linecap="round"/>
<circle cx="80.9" cy="545.7" r="3.6" fill="#6e605c"/>
<line x1="105.1" y1="538.4" x2="105.1" y2="579.9" stroke="#6b4a44" stroke-width="2.8" stroke-linecap="round"/>
<polygon points="105.10,537.47 100.45,545.53 109.75,545.53" fill="none" stroke="#6b4a44" stroke-width="1.25" stroke-linejoin="miter"/>
<circle cx="105.1" cy="559.8" r="3.6" fill="#7a6a66"/>
<line x1="88.0" y1="606.8" x2="88.0" y2="619.1" stroke="#3a1a15" stroke-width="2.8" stroke-linecap="round"/>
<polygon points="88.00,609.27 83.35,617.33 92.65,617.33" fill="none" stroke="#3a1a15" stroke-width="1.25" stroke-linejoin="miter"/>
<line x1="191.5" y1="531.6" x2="191.5" y2="589.3000000000001" stroke="#922820" stroke-width="2.8" stroke-linecap="round"/>
<polygon points="191.50,555.57 186.85,563.63 196.15,563.63" fill="none" stroke="#9b3a30" stroke-width="1.25" stroke-linejoin="miter"/>
<line x1="215.7" y1="479.79999999999995" x2="215.7" y2="528.8000000000001" stroke="#b01515" stroke-width="2.8" stroke-linecap="round"/>
<circle cx="215.7" cy="504.3" r="3.6" fill="#a04040"/>
<line x1="227.8" y1="520.9" x2="227.8" y2="524.3000000000001" stroke="#cc1010" stroke-width="2.8" stroke-linecap="round"/>
<circle cx="227.8" cy="522.6" r="3.6" fill="#cc1010"/>
<line x1="237.4" y1="555.8" x2="237.4" y2="577.2" stroke="#c03030" stroke-width="2.8" stroke-linecap="round"/>
<polygon points="237.40,562.47 232.75,570.53 242.05,570.53" fill="none" stroke="#c04040" stroke-width="1.25" stroke-linejoin="miter"/>
<line x1="225.3" y1="606.8" x2="225.3" y2="627.3000000000001" stroke="#cc1515" stroke-width="2.8" stroke-linecap="round"/>
<polygon points="225.30,612.57 220.65,620.63 229.95,620.63" fill="none" stroke="#cc2020" stroke-width="1.25" stroke-linejoin="miter"/>
<line x1="264.0" y1="536.8" x2="264.0" y2="594.5" stroke="#ee1515" stroke-width="2.8" stroke-linecap="round"/>
<polygon points="264.00,562.47 259.35,570.53 268.65,570.53" fill="none" stroke="#e82020" stroke-width="1.25" stroke-linejoin="miter"/>
<line x1="254.4" y1="441.79999999999995" x2="254.4" y2="458.0" stroke="#ee1010" stroke-width="2.8" stroke-linecap="round"/>
<circle cx="254.4" cy="449.0" r="3.6" fill="#ee1010"/>
<line x1="278.6" y1="517.8" x2="278.6" y2="530.6" stroke="#ff1010" stroke-width="2.8" stroke-linecap="round"/>
<circle cx="278.6" cy="524.3" r="3.6" fill="#ff1010"/>
<text x="71.8" y="457.8" font-size="16.2" font-weight="bold" fill="#111">(b)</text>
<text x="98.6" y="457.6" font-size="14.0" font-weight="bold" fill="#111">NEE</text>
<text x="129.4" y="457.6" font-size="12.4" font-weight="bold" fill="#111">max</text>
<text x="122.4" y="614.6" font-size="12.3" fill="#1a1a1a">Warming *</text>
<text x="122.4" y="631.6" font-size="12.3" textLength="119.82" lengthAdjust="spacingAndGlyphs" fill="#1a1a1a">Warming × N-addition</text>
<text x="247.2" y="626.5" font-size="10" fill="#1a1a1a">*</text>
<rect x="58.5" y="432.0" width="238.39999999999998" height="204.29999999999995" fill="none" stroke="#333" stroke-width="1.4"/>
<line x1="54.5" y1="480.7" x2="58.5" y2="480.7" stroke="#333" stroke-width="1.2"/>
<text x="41.55" y="486.5" font-size="16.3" fill="#1a1a1a">5</text>
<line x1="54.5" y1="555.8" x2="58.5" y2="555.8" stroke="#333" stroke-width="1.2"/>
<text x="41.55" y="561.5999999999999" font-size="16.3" fill="#1a1a1a">0</text>
<line x1="54.5" y1="630.6" x2="58.5" y2="630.6" stroke="#333" stroke-width="1.2"/>
<text x="32.02" y="636.4" font-size="16.3" fill="#1a1a1a">−5</text>
<line x1="70.0" y1="636.3" x2="70.0" y2="640.5" stroke="#333" stroke-width="1.2"/>
<line x1="118.0" y1="636.3" x2="118.0" y2="640.5" stroke="#333" stroke-width="1.2"/>
<line x1="166.0" y1="636.3" x2="166.0" y2="640.5" stroke="#333" stroke-width="1.2"/>
<line x1="214.0" y1="636.3" x2="214.0" y2="640.5" stroke="#333" stroke-width="1.2"/>
<line x1="262.0" y1="636.3" x2="262.0" y2="640.5" stroke="#333" stroke-width="1.2"/>
<path d="M70.00,748.80 L74.19,749.94 L78.38,751.06 L82.57,752.15 L86.76,753.21 L90.95,754.24 L95.14,755.24 L99.33,756.20 L103.52,757.11 L107.71,757.97 L111.90,758.79 L116.09,759.54 L120.28,760.24 L124.47,760.88 L128.66,761.45 L132.85,761.97 L137.04,762.46 L141.23,762.94 L145.42,763.41 L149.61,763.85 L153.80,764.28 L157.99,764.70 L162.18,765.10 L166.37,765.48 L170.56,765.85 L174.75,766.20 L178.94,766.54 L183.13,766.87 L187.32,767.19 L191.51,767.49 L195.70,767.78 L199.89,768.07 L204.08,768.34 L208.27,768.60 L212.46,768.85 L216.65,769.10 L220.84,769.33 L225.03,769.56 L229.22,769.78 L233.41,770.00 L237.60,770.20 L241.79,770.41 L245.98,770.60 L250.17,770.79 L254.36,770.98 L258.55,771.16 L262.74,771.34 L266.93,771.51 L271.12,771.68 L275.31,771.84 L279.50,772.00 L279.50,810.80 L275.31,809.92 L271.12,809.05 L266.93,808.18 L262.74,807.32 L258.55,806.46 L254.36,805.61 L250.17,804.76 L245.98,803.91 L241.79,803.07 L237.60,802.24 L233.41,801.41 L229.22,800.59 L225.03,799.77 L220.84,798.96 L216.65,798.16 L212.46,797.37 L208.27,796.59 L204.08,795.81 L199.89,795.05 L195.70,794.30 L191.51,793.55 L187.32,792.82 L183.13,792.10 L178.94,791.39 L174.75,790.70 L170.56,790.01 L166.37,789.35 L162.18,788.69 L157.99,788.06 L153.80,787.44 L149.61,786.83 L145.42,786.24 L141.23,785.67 L137.04,785.11 L132.85,784.57 L128.66,784.06 L124.47,783.59 L120.28,783.19 L116.09,782.85 L111.90,782.57 L107.71,782.35 L103.52,782.18 L99.33,782.06 L95.14,781.98 L90.95,781.94 L86.76,781.93 L82.57,781.96 L78.38,782.02 L74.19,782.10 L70.00,782.20Z" fill="#999999" fill-opacity="0.4" stroke="none"/>
<path d="M77.70,712.20 L81.45,711.95 L85.19,711.69 L88.94,711.41 L92.68,711.13 L96.43,710.83 L100.18,710.52 L103.92,710.19 L107.67,709.85 L111.41,709.49 L115.16,709.11 L118.91,708.71 L122.65,708.30 L126.40,707.86 L130.14,707.39 L133.89,706.90 L137.64,706.39 L141.38,705.84 L145.13,705.27 L148.87,704.66 L152.62,704.02 L156.37,703.35 L160.11,702.64 L163.86,701.89 L167.60,701.10 L171.35,700.28 L175.10,699.42 L178.84,698.52 L182.59,697.59 L186.33,696.63 L190.08,695.63 L193.83,694.60 L197.57,693.54 L201.32,692.45 L205.06,691.33 L208.81,690.18 L212.56,689.00 L216.30,687.80 L220.05,686.57 L223.79,685.33 L227.54,684.05 L231.29,682.76 L235.03,681.45 L238.78,680.12 L242.52,678.78 L246.27,677.42 L250.02,676.04 L253.76,674.65 L257.51,673.24 L261.25,671.83 L265.00,670.40 L265.00,720.20 L261.25,720.53 L257.51,720.88 L253.76,721.23 L250.02,721.60 L246.27,721.98 L242.52,722.38 L238.78,722.80 L235.03,723.23 L231.29,723.68 L227.54,724.15 L223.79,724.63 L220.05,725.15 L216.30,725.68 L212.56,726.24 L208.81,726.82 L205.06,727.43 L201.32,728.07 L197.57,728.74 L193.83,729.44 L190.08,730.17 L186.33,730.93 L182.59,731.73 L178.84,732.56 L175.10,733.42 L171.35,734.32 L167.60,735.26 L163.86,736.23 L160.11,737.24 L156.37,738.29 L152.62,739.38 L148.87,740.50 L145.13,741.65 L141.38,742.84 L137.64,744.05 L133.89,745.30 L130.14,746.57 L126.40,747.86 L122.65,749.18 L118.91,750.53 L115.16,751.89 L111.41,753.27 L107.67,754.67 L103.92,756.09 L100.18,757.52 L96.43,758.97 L92.68,760.43 L88.94,761.91 L85.19,763.39 L81.45,764.89 L77.70,766.40Z" fill="#999999" fill-opacity="0.4" stroke="none"/>
<path d="M70,765.5 L279.5,791.4" fill="none" stroke="#111" stroke-width="1.3"/>
<path d="M77.7,739.3 L265,695.3" fill="none" stroke="#111" stroke-width="1.5" stroke-dasharray="5.5,5.5"/>
<line x1="69.7" y1="763.8" x2="69.7" y2="783.1" stroke="#111" stroke-width="2.8" stroke-linecap="round"/>
<circle cx="69.7" cy="773.0" r="3.7" fill="#111"/>
<line x1="77.3" y1="679.6999999999999" x2="77.3" y2="706.1" stroke="#161010" stroke-width="2.8" stroke-linecap="round"/>
<polygon points="77.30,688.97 72.65,697.03 81.95,697.03" fill="none" stroke="#161010" stroke-width="1.25" stroke-linejoin="miter"/>
<line x1="89.2" y1="701.0" x2="89.2" y2="716.7" stroke="#3a1a15" stroke-width="2.8" stroke-linecap="round"/>
<polygon points="89.20,705.27 84.55,713.33 93.85,713.33" fill="none" stroke="#3a1a15" stroke-width="1.25" stroke-linejoin="miter"/>
<line x1="81.8" y1="746.1" x2="81.8" y2="754.8000000000001" stroke="#5a4a48" stroke-width="2.8" stroke-linecap="round"/>
<circle cx="81.8" cy="750.0" r="3.6" fill="#5a4a48"/>
<line x1="106.0" y1="759.4" x2="106.0" y2="794.6" stroke="#3a1a15" stroke-width="2.8" stroke-linecap="round"/>
<circle cx="106.0" cy="770.3" r="3.4" fill="#4a3030"/>
<polygon points="106.00,772.47 101.35,780.53 110.65,780.53" fill="none" stroke="#5a4040" stroke-width="1.25" stroke-linejoin="miter"/>
<line x1="193.0" y1="756.4" x2="193.0" y2="771.3000000000001" stroke="#a02020" stroke-width="2.8" stroke-linecap="round"/>
<polygon points="193.00,759.87 188.35,767.93 197.65,767.93" fill="none" stroke="#a02828" stroke-width="1.25" stroke-linejoin="miter"/>
<line x1="226.6" y1="702.3" x2="226.6" y2="730.4" stroke="#c01515" stroke-width="2.8" stroke-linecap="round"/>
<polygon points="226.60,712.27 221.95,720.33 231.25,720.33" fill="none" stroke="#b83a3a" stroke-width="1.25" stroke-linejoin="miter"/>
<line x1="239.0" y1="655.4" x2="239.0" y2="685.1" stroke="#dd1a1a" stroke-width="2.8" stroke-linecap="round"/>
<polygon points="239.00,666.97 234.35,675.03 243.65,675.03" fill="none" stroke="#dd1a1a" stroke-width="1.25" stroke-linejoin="miter"/>
<line x1="265.5" y1="673.1" x2="265.5" y2="684.0" stroke="#e83030" stroke-width="2.8" stroke-linecap="round"/>
<polygon points="265.50,674.67 260.85,682.73 270.15,682.73" fill="none" stroke="#e83030" stroke-width="1.25" stroke-linejoin="miter"/>
<line x1="228.8" y1="766.6999999999999" x2="228.8" y2="769.9" stroke="#c01818" stroke-width="2.8" stroke-linecap="round"/>
<circle cx="228.8" cy="768.3" r="3.6" fill="#c01818"/>
<line x1="255.8" y1="746.4" x2="255.8" y2="766.9" stroke="#e01010" stroke-width="2.8" stroke-linecap="round"/>
<circle cx="255.8" cy="756.6" r="3.6" fill="#e01010"/>
<line x1="216.9" y1="790.1999999999999" x2="216.9" y2="807.8000000000001" stroke="#a01010" stroke-width="2.8" stroke-linecap="round"/>
<circle cx="216.9" cy="798.8" r="3.6" fill="#a01010"/>
<line x1="279.4" y1="823.9" x2="279.4" y2="839.8000000000001" stroke="#ff1010" stroke-width="2.8" stroke-linecap="round"/>
<circle cx="279.4" cy="832.0" r="3.6" fill="#ff1010"/>
<text x="72.0" y="665.5" font-size="16.2" font-weight="bold" fill="#111">(c)</text>
<text x="98.0" y="665.5" font-size="14.6" font-weight="bold" fill="#111">GPP</text>
<text x="130.4" y="665.5" font-size="12.0" font-weight="bold" fill="#111">max</text>
<text x="103.4" y="833.8" font-size="12.3" textLength="121.62" lengthAdjust="spacingAndGlyphs" fill="#1a1a1a">Warming × N-addition</text>
<text x="229.8" y="830.4" font-size="12" fill="#1a1a1a">**</text>
<rect x="59.0" y="645.8" width="238.3" height="204.4000000000001" fill="none" stroke="#333" stroke-width="1.4"/>
<line x1="55.0" y1="677.3" x2="59.0" y2="677.3" stroke="#333" stroke-width="1.2"/>
<text x="32.51" y="683.0999999999999" font-size="16.3" fill="#1a1a1a">12</text>
<line x1="55.0" y1="761.6" x2="59.0" y2="761.6" stroke="#333" stroke-width="1.2"/>
<text x="41.55" y="767.4" font-size="16.3" fill="#1a1a1a">8</text>
<line x1="55.0" y1="845.5" x2="59.0" y2="845.5" stroke="#333" stroke-width="1.2"/>
<text x="41.55" y="851.3" font-size="16.3" fill="#1a1a1a">4</text>
<line x1="70.0" y1="850.2" x2="70.0" y2="854.4000000000001" stroke="#333" stroke-width="1.2"/>
<line x1="118.0" y1="850.2" x2="118.0" y2="854.4000000000001" stroke="#333" stroke-width="1.2"/>
<line x1="166.0" y1="850.2" x2="166.0" y2="854.4000000000001" stroke="#333" stroke-width="1.2"/>
<line x1="214.0" y1="850.2" x2="214.0" y2="854.4000000000001" stroke="#333" stroke-width="1.2"/>
<line x1="262.0" y1="850.2" x2="262.0" y2="854.4000000000001" stroke="#333" stroke-width="1.2"/>
<text x="65.48" y="869.4" font-size="16.3" fill="#1a1a1a">0</text>
<text x="113.48" y="869.4" font-size="16.3" fill="#1a1a1a">2</text>
<text x="161.48" y="869.4" font-size="16.3" fill="#1a1a1a">4</text>
<text x="209.48" y="869.4" font-size="16.3" fill="#1a1a1a">6</text>
<text x="257.48" y="869.4" font-size="16.3" fill="#1a1a1a">8</text>
<text x="112.8" y="898.6" font-size="16.9" fill="#1a1a1a">Warming</text>
<text x="188.1" y="898.6" font-size="16.9" fill="#1a1a1a">(</text>
<text x="194.1" y="892.9" font-size="10" fill="#1a1a1a">o</text>
<text x="200.0" y="898.6" font-size="16.9" fill="#1a1a1a">C)</text>
<path d="M348.90,562.40 L354.14,561.64 L359.38,560.86 L364.62,560.05 L369.86,559.21 L375.10,558.35 L380.34,557.44 L385.58,556.50 L390.82,555.51 L396.06,554.47 L401.30,553.36 L406.54,552.19 L411.78,550.95 L417.02,549.61 L422.26,548.19 L427.50,546.65 L432.74,545.01 L437.98,543.25 L443.22,541.36 L448.46,539.35 L453.70,537.22 L458.94,534.96 L464.18,532.59 L469.42,530.11 L474.66,527.53 L479.90,524.85 L485.14,522.10 L490.38,519.27 L495.62,516.38 L500.86,513.43 L506.10,510.43 L511.34,507.39 L516.58,504.30 L521.82,501.19 L527.06,498.04 L532.30,494.87 L537.54,491.67 L542.78,488.46 L548.02,485.22 L553.26,481.97 L558.50,478.70 L558.50,550.70 L553.26,551.40 L548.02,552.12 L542.78,552.85 L537.54,553.61 L532.30,554.38 L527.06,555.18 L521.82,556.00 L516.58,556.86 L511.34,557.74 L506.10,558.67 L500.86,559.64 L495.62,560.66 L490.38,561.74 L485.14,562.88 L479.90,564.10 L474.66,565.39 L469.42,566.78 L464.18,568.27 L458.94,569.87 L453.70,571.58 L448.46,573.42 L443.22,575.38 L437.98,577.46 L432.74,579.67 L427.50,582.00 L422.26,584.43 L417.02,586.98 L411.78,589.61 L406.54,592.34 L401.30,595.14 L396.06,598.00 L390.82,600.93 L385.58,603.91 L380.34,606.94 L375.10,610.00 L369.86,613.11 L364.62,616.24 L359.38,619.40 L354.14,622.59 L348.90,625.80Z" fill="#999999" fill-opacity="0.4" stroke="none"/>
<path d="M356.20,526.90 L360.89,527.55 L365.58,528.18 L370.27,528.79 L374.96,529.37 L379.65,529.92 L384.34,530.44 L389.03,530.92 L393.72,531.37 L398.41,531.77 L403.10,532.12 L407.79,532.42 L412.48,532.66 L417.17,532.83 L421.86,532.93 L426.55,532.95 L431.24,532.89 L435.93,532.73 L440.62,532.48 L445.31,532.12 L450.00,531.65 L454.69,531.07 L459.38,530.38 L464.07,529.58 L468.76,528.66 L473.45,527.63 L478.14,526.50 L482.83,525.27 L487.52,523.94 L492.21,522.53 L496.90,521.03 L501.59,519.47 L506.28,517.83 L510.97,516.14 L515.66,514.39 L520.35,512.59 L525.04,510.75 L529.73,508.86 L534.42,506.94 L539.11,504.98 L543.80,503.00 L543.80,579.80 L539.11,579.23 L534.42,578.68 L529.73,578.17 L525.04,577.69 L520.35,577.26 L515.66,576.87 L510.97,576.53 L506.28,576.25 L501.59,576.02 L496.90,575.87 L492.21,575.78 L487.52,575.78 L482.83,575.86 L478.14,576.04 L473.45,576.32 L468.76,576.70 L464.07,577.19 L459.38,577.80 L454.69,578.52 L450.00,579.35 L445.31,580.29 L440.62,581.34 L435.93,582.50 L431.24,583.75 L426.55,585.10 L421.86,586.53 L417.17,588.04 L412.48,589.62 L407.79,591.27 L403.10,592.98 L398.41,594.74 L393.72,596.55 L389.03,598.41 L384.34,600.30 L379.65,602.23 L374.96,604.19 L370.27,606.18 L365.58,608.20 L360.89,610.24 L356.20,612.30Z" fill="#999999" fill-opacity="0.4" stroke="none"/>
<path d="M348.9,594.1 L558.5,514.7" fill="none" stroke="#111" stroke-width="1.3"/>
<path d="M356.2,569.6 L543.8,541.4" fill="none" stroke="#111" stroke-width="1.5" stroke-dasharray="5.5,5.5"/>
<polygon points="356.00,485.14 351.20,493.46 360.80,493.46" fill="none" stroke="#333" stroke-width="1.25" stroke-linejoin="miter"/>
<circle cx="356.0" cy="490.1" r="1.1" fill="#333"/>
<line x1="348.5" y1="602.6" x2="348.5" y2="614.2" stroke="#111" stroke-width="2.8" stroke-linecap="round"/>
<circle cx="348.5" cy="608.0" r="3.7" fill="#111"/>
<line x1="360.7" y1="527.8" x2="360.7" y2="582.6" stroke="#4a3a38" stroke-width="2.8" stroke-linecap="round"/>
<circle cx="360.7" cy="555.0" r="3.6" fill="#4a3a38"/>
<polygon points="367.70,596.24 362.90,604.56 372.50,604.56" fill="none" stroke="#6b5a55" stroke-width="1.25" stroke-linejoin="miter"/>
<circle cx="367.7" cy="601.1999999999999" r="1.1" fill="#6b5a55"/>
<line x1="384.4" y1="563.6999999999999" x2="384.4" y2="606.6" stroke="#6b4a44" stroke-width="2.8" stroke-linecap="round"/>
<polygon points="384.40,569.77 379.75,577.83 389.05,577.83" fill="none" stroke="#6b4a44" stroke-width="1.25" stroke-linejoin="miter"/>
<circle cx="384.4" cy="592.4" r="3.6" fill="#6b5a55"/>
<line x1="471.3" y1="552.1" x2="471.3" y2="616.7" stroke="#8b1a10" stroke-width="2.8" stroke-linecap="round"/>
<polygon points="471.30,580.37 466.65,588.43 475.95,588.43" fill="none" stroke="#a03a30" stroke-width="1.25" stroke-linejoin="miter"/>
<line x1="495.3" y1="524.3" x2="495.3" y2="567.9" stroke="#b04a40" stroke-width="2.8" stroke-linecap="round"/>
<circle cx="495.3" cy="545.6" r="3.6" fill="#b05a50"/>
<circle cx="507.3" cy="541.9" r="3.6" fill="#c06060"/>
<line x1="517.3" y1="503.4" x2="517.3" y2="515.6" stroke="#c04040" stroke-width="2.8" stroke-linecap="round"/>
<polygon points="517.30,504.87 512.65,512.93 521.95,512.93" fill="none" stroke="#c04040" stroke-width="1.25" stroke-linejoin="miter"/>
<line x1="543.3" y1="480.2" x2="543.3" y2="552.8000000000001" stroke="#dd3030" stroke-width="2.8" stroke-linecap="round"/>
<polygon points="543.30,511.87 538.65,519.93 547.95,519.93" fill="none" stroke="#dd3030" stroke-width="1.25" stroke-linejoin="miter"/>
<polygon points="505.00,608.14 500.20,616.46 509.80,616.46" fill="none" stroke="#cc3030" stroke-width="1.25" stroke-linejoin="miter"/>
<circle cx="505.0" cy="613.0999999999999" r="1.1" fill="#cc3030"/>
<circle cx="534.0" cy="440.4" r="3.6" fill="#ee1010"/>
<circle cx="558.4" cy="601.3" r="3.6" fill="#ff1010"/>
<text x="343.7" y="456.2" font-size="15.5" font-weight="bold" fill="#111">(d)</text>
<text x="368.0" y="456.2" font-size="14.0" font-weight="bold" fill="#111">ER</text>
<text x="462.5" y="480.9" font-size="12.3" fill="#1a1a1a">Warming *</text>
<rect x="337.9" y="431.8" width="237.89999999999998" height="203.59999999999997" fill="none" stroke="#333" stroke-width="1.4"/>
<line x1="333.9" y1="446.8" x2="337.9" y2="446.8" stroke="#333" stroke-width="1.2"/>
<text x="311.41" y="452.6" font-size="16.3" fill="#1a1a1a">15</text>
<line x1="333.9" y1="540.1" x2="337.9" y2="540.1" stroke="#333" stroke-width="1.2"/>
<text x="311.41" y="545.9" font-size="16.3" fill="#1a1a1a">10</text>
<line x1="333.9" y1="633.2" x2="337.9" y2="633.2" stroke="#333" stroke-width="1.2"/>
<text x="320.45" y="639.0" font-size="16.3" fill="#1a1a1a">5</text>
<line x1="348.9" y1="635.4" x2="348.9" y2="639.6" stroke="#333" stroke-width="1.2"/>
<line x1="396.9" y1="635.4" x2="396.9" y2="639.6" stroke="#333" stroke-width="1.2"/>
<line x1="444.9" y1="635.4" x2="444.9" y2="639.6" stroke="#333" stroke-width="1.2"/>
<line x1="492.9" y1="635.4" x2="492.9" y2="639.6" stroke="#333" stroke-width="1.2"/>
<line x1="540.9" y1="635.4" x2="540.9" y2="639.6" stroke="#333" stroke-width="1.2"/>
<path d="M349.70,800.30 L354.93,797.82 L360.15,795.32 L365.38,792.81 L370.61,790.28 L375.84,787.74 L381.06,785.18 L386.29,782.60 L391.52,780.00 L396.75,777.38 L401.97,774.74 L407.20,772.07 L412.43,769.38 L417.66,766.66 L422.88,763.91 L428.11,761.13 L433.34,758.32 L438.57,755.47 L443.79,752.60 L449.02,749.69 L454.25,746.74 L459.48,743.76 L464.70,740.75 L469.93,737.69 L475.16,734.61 L480.39,731.49 L485.62,728.34 L490.84,725.16 L496.07,721.94 L501.30,718.70 L506.52,715.43 L511.75,712.13 L516.98,708.81 L522.21,705.46 L527.43,702.09 L532.66,698.71 L537.89,695.30 L543.12,691.87 L548.34,688.43 L553.57,684.97 L558.80,681.50 L558.80,721.50 L553.57,724.00 L548.34,726.52 L543.12,729.05 L537.89,731.60 L532.66,734.17 L527.43,736.76 L522.21,739.36 L516.98,741.99 L511.75,744.64 L506.52,747.32 L501.30,750.03 L496.07,752.76 L490.84,755.52 L485.62,758.31 L480.39,761.13 L475.16,763.99 L469.93,766.88 L464.70,769.80 L459.48,772.76 L454.25,775.76 L449.02,778.79 L443.79,781.85 L438.57,784.95 L433.34,788.08 L428.11,791.25 L422.88,794.44 L417.66,797.67 L412.43,800.92 L407.20,804.21 L401.97,807.51 L396.75,810.84 L391.52,814.20 L386.29,817.58 L381.06,820.97 L375.84,824.39 L370.61,827.82 L365.38,831.27 L360.15,834.73 L354.93,838.21 L349.70,841.70Z" fill="#999999" fill-opacity="0.4" stroke="none"/>
<path d="M357.20,776.10 L361.89,774.72 L366.57,773.32 L371.26,771.92 L375.95,770.49 L380.64,769.05 L385.32,767.58 L390.01,766.09 L394.70,764.56 L399.39,763.01 L404.07,761.41 L408.76,759.77 L413.45,758.07 L418.14,756.31 L422.83,754.47 L427.51,752.55 L432.20,750.53 L436.89,748.40 L441.58,746.15 L446.26,743.77 L450.95,741.25 L455.64,738.59 L460.33,735.80 L465.01,732.87 L469.70,729.83 L474.39,726.67 L479.08,723.42 L483.76,720.08 L488.45,716.67 L493.14,713.19 L497.83,709.66 L502.51,706.08 L507.20,702.46 L511.89,698.81 L516.58,695.13 L521.26,691.42 L525.95,687.69 L530.64,683.94 L535.33,680.17 L540.01,676.39 L544.70,672.60 L544.70,732.40 L540.01,733.78 L535.33,735.18 L530.64,736.58 L525.95,738.01 L521.26,739.45 L516.58,740.92 L511.89,742.41 L507.20,743.94 L502.51,745.49 L497.83,747.09 L493.14,748.73 L488.45,750.43 L483.76,752.19 L479.08,754.03 L474.39,755.95 L469.70,757.97 L465.01,760.10 L460.33,762.35 L455.64,764.73 L450.95,767.25 L446.26,769.91 L441.58,772.70 L436.89,775.63 L432.20,778.67 L427.51,781.83 L422.83,785.08 L418.14,788.42 L413.45,791.83 L408.76,795.31 L404.07,798.84 L399.39,802.42 L394.70,806.04 L390.01,809.69 L385.32,813.37 L380.64,817.08 L375.95,820.81 L371.26,824.56 L366.57,828.33 L361.89,832.11 L357.20,835.90Z" fill="#999999" fill-opacity="0.4" stroke="none"/>
<path d="M349.7,821 L558.8,701.5" fill="none" stroke="#111" stroke-width="1.3"/>
<path d="M357.2,806 L544.7,702.5" fill="none" stroke="#111" stroke-width="1.5" stroke-dasharray="5.5,5.5"/>
<line x1="356.6" y1="760.8" x2="356.6" y2="797.3000000000001" stroke="#161010" stroke-width="2.8" stroke-linecap="round"/>
<polygon points="356.60,776.37 351.95,784.43 361.25,784.43" fill="none" stroke="#161010" stroke-width="1.25" stroke-linejoin="miter"/>
<line x1="359.9" y1="783.5" x2="359.9" y2="806.2" stroke="#6b5853" stroke-width="2.8" stroke-linecap="round"/>
<line x1="361.8" y1="786.4" x2="361.8" y2="798.6" stroke="#6b5853" stroke-width="2.8" stroke-linecap="round"/>
<circle cx="361.0" cy="794.3" r="3.6" fill="#6e605c"/>
<line x1="368.6" y1="794.0" x2="368.6" y2="824.4" stroke="#6b5853" stroke-width="2.8" stroke-linecap="round"/>
<polygon points="368.60,804.67 363.95,812.73 373.25,812.73" fill="none" stroke="#6b5a55" stroke-width="1.25" stroke-linejoin="miter"/>
<line x1="385.4" y1="790.1" x2="385.4" y2="816.1" stroke="#6b5853" stroke-width="2.8" stroke-linecap="round"/>
<polygon points="385.40,789.67 380.75,797.73 390.05,797.73" fill="none" stroke="#6b5a55" stroke-width="1.25" stroke-linejoin="miter"/>
<circle cx="385.4" cy="809.8" r="3.6" fill="#6e605c"/>
<circle cx="349.7" cy="823.1" r="3.8" fill="#111"/>
<line x1="471.7" y1="781.4" x2="471.7" y2="804.2" stroke="#a01010" stroke-width="2.8" stroke-linecap="round"/>
<polygon points="471.70,788.17 467.05,796.23 476.35,796.23" fill="none" stroke="#a02020" stroke-width="1.25" stroke-linejoin="miter"/>
<line x1="496.0" y1="761.1999999999999" x2="496.0" y2="794.4" stroke="#a01010" stroke-width="2.8" stroke-linecap="round"/>
<circle cx="496.0" cy="778.3" r="3.7" fill="#a01010"/>
<line x1="505.7" y1="690.1" x2="505.7" y2="745.7" stroke="#b03a3a" stroke-width="2.8" stroke-linecap="round"/>
<polygon points="505.70,711.47 501.05,719.53 510.35,719.53" fill="none" stroke="#b03a3a" stroke-width="1.25" stroke-linejoin="miter"/>
<line x1="508.2" y1="701.4" x2="508.2" y2="745.7" stroke="#b04040" stroke-width="2.8" stroke-linecap="round"/>
<circle cx="508.2" cy="722.8" r="3.6" fill="#b04040"/>
<line x1="517.4" y1="679.1" x2="517.4" y2="749.4" stroke="#dd1a1a" stroke-width="2.8" stroke-linecap="round"/>
<polygon points="517.40,708.97 512.75,717.03 522.05,717.03" fill="none" stroke="#d03030" stroke-width="1.25" stroke-linejoin="miter"/>
<line x1="534.5" y1="671.8" x2="534.5" y2="711.6" stroke="#cc2020" stroke-width="2.8" stroke-linecap="round"/>
<circle cx="534.5" cy="692.3" r="3.7" fill="#c83030"/>
<line x1="544.7" y1="653.6" x2="544.7" y2="712.9" stroke="#ee1515" stroke-width="2.8" stroke-linecap="round"/>
<polygon points="544.70,677.37 540.05,685.43 549.35,685.43" fill="none" stroke="#ee2020" stroke-width="1.25" stroke-linejoin="miter"/>
<line x1="558.8" y1="691.4" x2="558.8" y2="709.2" stroke="#ff1010" stroke-width="2.8" stroke-linecap="round"/>
<circle cx="558.8" cy="699.7" r="3.7" fill="#ff1010"/>
<text x="343.9" y="665.3" font-size="15.5" font-weight="bold" fill="#111">(e)</text>
<text x="368.5" y="665.3" font-size="14.0" font-weight="bold" fill="#111">SR</text>
<text x="481.9" y="828.5" font-size="12.3" fill="#1a1a1a">Warming ***</text>
<rect x="339.1" y="643.6" width="237.29999999999995" height="206.39999999999998" fill="none" stroke="#333" stroke-width="1.4"/>
<line x1="335.1" y1="717.8" x2="339.1" y2="717.8" stroke="#333" stroke-width="1.2"/>
<text x="320.45" y="723.5999999999999" font-size="16.3" fill="#1a1a1a">3</text>
<line x1="335.1" y1="808.8" x2="339.1" y2="808.8" stroke="#333" stroke-width="1.2"/>
<text x="320.45" y="814.5999999999999" font-size="16.3" fill="#1a1a1a">1</text>
<line x1="349.2" y1="850.0" x2="349.2" y2="854.2" stroke="#333" stroke-width="1.2"/>
<line x1="397.2" y1="850.0" x2="397.2" y2="854.2" stroke="#333" stroke-width="1.2"/>
<line x1="445.2" y1="850.0" x2="445.2" y2="854.2" stroke="#333" stroke-width="1.2"/>
<line x1="493.2" y1="850.0" x2="493.2" y2="854.2" stroke="#333" stroke-width="1.2"/>
<line x1="541.2" y1="850.0" x2="541.2" y2="854.2" stroke="#333" stroke-width="1.2"/>
<text x="344.68" y="869.4" font-size="16.3" fill="#1a1a1a">0</text>
<text x="392.68" y="869.4" font-size="16.3" fill="#1a1a1a">2</text>
<text x="440.68" y="869.4" font-size="16.3" fill="#1a1a1a">4</text>
<text x="488.68" y="869.4" font-size="16.3" fill="#1a1a1a">6</text>
<text x="536.68" y="869.4" font-size="16.3" fill="#1a1a1a">8</text>
<text x="372.6" y="898.6" font-size="16.9" fill="#1a1a1a">Warming</text>
<text x="447.9" y="898.6" font-size="16.9" fill="#1a1a1a">(</text>
<text x="453.9" y="892.9" font-size="10" fill="#1a1a1a">o</text>
<text x="459.8" y="898.6" font-size="16.9" fill="#1a1a1a">C)</text>
<g transform="translate(17.4,0) rotate(-90)">
<text x="-749.4" y="0" font-size="16.8" fill="#1a1a1a">CO</text>
<text x="-723.6" y="3.6" font-size="10.5" fill="#1a1a1a">2</text>
<text x="-716.6" y="0" font-size="16.8" fill="#1a1a1a">fluxes</text>
<text x="-661.0" y="0" font-size="16.8" fill="#1a1a1a">(μmol</text>
<text x="-614.4" y="0" font-size="16.8" fill="#1a1a1a">m</text>
<text x="-601.0" y="-5.6" font-size="10.5" fill="#1a1a1a">−2</text>
<text x="-582.2" y="0" font-size="16.8" fill="#1a1a1a">s</text>
<text x="-572.0" y="-5.6" font-size="10.5" fill="#1a1a1a">−1</text>
<text x="-561.2" y="0" font-size="16.8" fill="#1a1a1a">)</text>
</g>
</svg>
</body></html>
